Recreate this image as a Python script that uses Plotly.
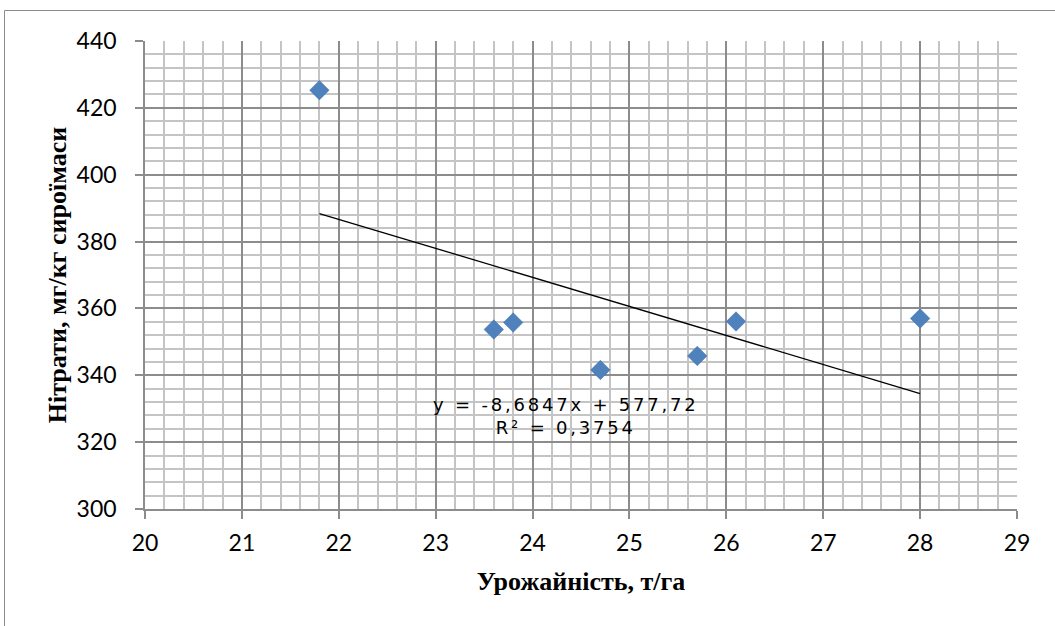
import plotly.graph_objects as go

# Data
yield_t_ha = [21.8, 23.6, 23.8, 24.7, 25.7, 26.1, 28.0]
nitrates = [425.3, 353.7, 355.8, 341.6, 345.8, 356.1, 357.0]
slope = -8.6847
intercept = 577.72
r2_text = "0,3754"
x_ticks = list(range(20, 30))
y_ticks = list(range(300, 441, 20))

trend_x = [min(yield_t_ha), max(yield_t_ha)]
trend_y = [slope * v + intercept for v in trend_x]

fig = go.Figure()
fig.add_trace(go.Scatter(x=trend_x, y=trend_y, mode="lines",
                         line=dict(color="black", width=1.3), hoverinfo="skip"))
fig.add_trace(go.Scatter(x=yield_t_ha, y=nitrates, mode="markers",
                         marker=dict(symbol="diamond", size=15, color="#4F81BD",
                                     line=dict(width=0.5, color="#3F6FA8"))))

W, H = 1055, 626
ml, mr, mt, mb = 145, 38, 41, 117
pw, ph = W - ml - mr, H - mt - mb

fig.add_shape(type="rect", xref="paper", yref="paper",
              x0=(4.5 - ml) / pw, x1=1.2, y0=-0.5, y1=1 + (mt - 10.5) / ph,
              line=dict(color="#8c8c8c", width=1), layer="below")

eq_text = f"y = {str(slope).replace('.', ',')}x + {str(intercept).replace('.', ',')}"
ann_font = dict(family="DejaVu Sans, Arial", size=18, color="black")
fig.add_annotation(x=(566 - ml) / pw, y=1 - (415.5 - mt) / ph, xref="paper", yref="paper",
                   xanchor="center", yanchor="middle",
                   text=(f'<span style="letter-spacing:2.8px">{eq_text}</span><br>'
                         f'<span style="letter-spacing:2.8px">R² = {r2_text}</span>'),
                   showarrow=False, font=ann_font)

tick_font = dict(family="Lato, Noto Sans, sans-serif", size=23, color="black")
title_font = dict(family="Liberation Serif, Times New Roman, serif", size=26, color="black")

fig.update_layout(
    width=W, height=H,
    margin=dict(l=ml, r=mr, t=mt, b=mb),
    paper_bgcolor="white", plot_bgcolor="white",
    showlegend=False,
    xaxis=dict(range=[20, 29], tickvals=x_ticks, ticks="outside", ticklen=8,
               tickcolor="#8c8c8c", tickwidth=1.5, ticklabelstandoff=5,
               showline=True, linecolor="#8c8c8c", linewidth=1.5,
               showgrid=True, gridcolor="#8c8c8c", gridwidth=1.5,
               minor=dict(dtick=0.2, showgrid=True, gridcolor="#c4c4c4", gridwidth=1.5),
               tickfont=tick_font, zeroline=False,
               title=dict(text="<b>Урожайність, т/га</b>", font=title_font, standoff=16)),
    yaxis=dict(range=[300, 440], tickvals=y_ticks, ticks="outside", ticklen=8,
               tickcolor="#8c8c8c", tickwidth=1.5, ticklabelstandoff=14,
               showline=True, linecolor="#8c8c8c", linewidth=1.5,
               showgrid=True, gridcolor="#8c8c8c", gridwidth=1.5,
               minor=dict(dtick=4, showgrid=True, gridcolor="#c4c4c4", gridwidth=1.5),
               tickfont=tick_font, zeroline=False,
               title=dict(text="<b>Нітрати, мг/кг сироїмаси</b>", font=title_font, standoff=3)),
)

fig.write_html("out.html", post_script="document.body.style.margin='0';",
               config={"displayModeBar": False})
